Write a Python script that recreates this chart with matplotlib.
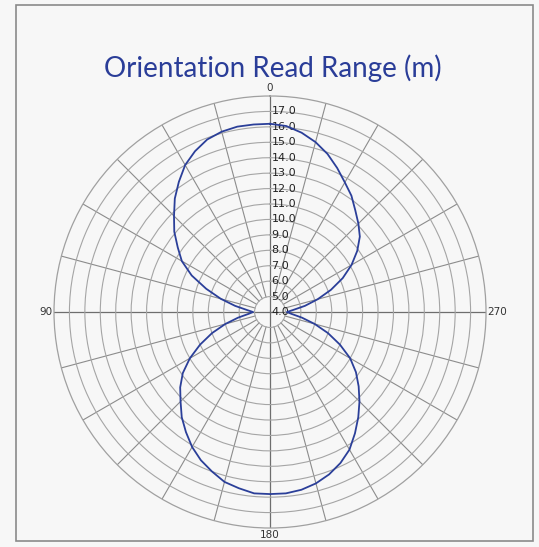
import matplotlib.pyplot as plt
import numpy as np
from matplotlib.patches import Rectangle

# --- Data ---
angles_deg = list(range(0, 360, 5))
read_range = [
    16.2, 16.2, 16.2, 16.1, 15.9, 15.5, 15.0, 14.3, 13.6, 12.8, 12.1, 11.3,   # 0-55
    10.6, 9.6, 8.4, 7.3, 6.3, 5.5, 5.1, 5.4, 6.1, 7.0, 8.0, 9.0,              # 60-115
    10.0, 10.9, 11.6, 12.2, 12.9, 13.5, 14.1, 14.6, 15.0, 15.4, 15.6, 15.8,   # 120-175
    15.8, 15.8, 15.7, 15.5, 15.2, 14.8, 14.3, 13.6, 12.9, 12.2, 11.5, 10.8,   # 180-235
    10.0, 9.0, 8.0, 7.0, 6.1, 5.4, 5.1, 5.5, 6.3, 7.2, 8.2, 9.2,              # 240-295
    10.1, 10.9, 11.6, 12.1, 12.6, 13.2, 13.7, 14.3, 14.9, 15.4, 15.8, 16.1,   # 300-355
]
r_ticks = [4, 5, 6, 7, 8, 9, 10, 11, 12, 13, 14, 15, 16, 17]
theta_labels = ["0", "90", "180", "270"]
title = "Orientation Read Range (m)"

# --- Figure ---
bg = "#f7f7f7"
fig = plt.figure(figsize=(5.39, 5.47), dpi=100, facecolor=bg)
fig.patches.append(Rectangle((16 / 539, 6 / 547), 517 / 539, 536 / 547,
                             transform=fig.transFigure, fill=False,
                             edgecolor="#8a8a8a", lw=1.2))

fig.text(0.507, 0.876, title, ha="center", va="center", fontsize=20,
         color="#2a3d98", family="Lato")

ax = fig.add_axes([0.1002, 0.0347, 0.8015, 0.7898], projection="polar")
ax.set_facecolor(bg)
ax.set_theta_zero_location("N")
ax.set_theta_direction(1)
ax.set_ylim(4, 18)

# rings
ax.set_yticks(r_ticks[1:])
ax.set_yticklabels([])
ax.yaxis.grid(True, color="#a5a5a5", lw=0.8)
ax.spines["polar"].set_color("#a0a0a0")
ax.spines["polar"].set_linewidth(0.9)

# spokes drawn by hand (short ones stop at inner ring)
ax.set_xticks([])
ax.xaxis.grid(False)
for a in range(0, 360, 15):
    t = np.deg2rad(a)
    if a % 90 == 0:
        ax.plot([t, t], [4, 18], color="#6e6e6e", lw=0.9, zorder=1)
    else:
        ax.plot([t, t], [5, 18], color="#8c8c8c", lw=0.8, zorder=1)

# compass labels
lab_kw = dict(fontsize=7.5, color="#333333", transform=ax.transAxes)
ax.text(0.5, 1.019, theta_labels[0], ha="center", va="center", **lab_kw)
ax.text(-0.003, 0.5, theta_labels[1], ha="right", va="center", **lab_kw)
ax.text(0.5, -0.017, theta_labels[2], ha="center", va="center", **lab_kw)
ax.text(1.004, 0.5, theta_labels[3], ha="left", va="center", **lab_kw)

for r in r_ticks:
    ax.annotate(f"{r:.1f}", xy=(0, r), xytext=(1, 0), textcoords="offset points",
                ha="left", va="center", fontsize=8, color="#222222", zorder=3)

theta = np.deg2rad(angles_deg + [angles_deg[0]])
rr = read_range + [read_range[0]]
ax.plot(theta, rr, color="#2b3f99", lw=1.3, zorder=4)

fig.savefig("out.png", dpi=100, facecolor=bg)
